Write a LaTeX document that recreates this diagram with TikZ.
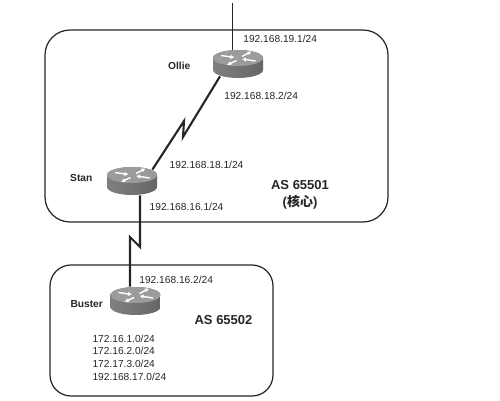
\documentclass[tikz,border=0pt]{standalone}
\usepackage{fontspec}
\setmainfont{Liberation Sans}
\newfontfamily\cjk{Noto Sans CJK SC}
\usepackage{xcolor}
\usetikzlibrary{arrows.meta,calc,positioning}
\definecolor{inkgray}{RGB}{38,38,38}
\definecolor{routertop}{RGB}{155,155,155}
\begin{document}
\begin{tikzpicture}[
  font=\fontsize{5.8}{7.2}\selectfont,
  text=inkgray,
  area/.style={draw=inkgray, line width=0.7pt},
  serial/.style={draw=inkgray, line width=1.2pt, line join=miter},
  uplink/.style={draw=inkgray, line width=0.5pt},
  addr/.style={inner sep=0pt},
  rname/.style={inner sep=0pt, font=\fontsize{5.8}{7}\selectfont\bfseries},
  asname/.style={inner sep=0pt, align=center, font=\fontsize{7.4}{9.6}\selectfont\bfseries},
  swoosh/.style={-{Latex[length=0.8mm,width=0.9mm]}, draw=white, line width=0.8pt},
  router/.style={minimum width=1cm, minimum height=0.56cm, inner sep=0pt, path picture={
    \begin{scope}[shift={(path picture bounding box.center)}]
      \shade[left color=black!50, middle color=black!8, right color=black!60]
        (-0.5,0.12) -- (-0.5,-0.12) arc[start angle=180, end angle=360, x radius=0.5, y radius=0.16]
        -- (0.5,0.12) arc[start angle=0, end angle=180, x radius=0.5, y radius=0.16] -- cycle;
      \fill[routertop] (0,0.12) ellipse[x radius=0.5, y radius=0.16];
      \draw[swoosh] (-0.34,0.17) -- (-0.07,0.13);
      \draw[swoosh] (0.08,0.15) -- (0.27,0.25);
      \draw[swoosh] (-0.03,0.07) -- (-0.22,-0.02);
      \draw[swoosh] (0.35,0.06) -- (0.08,0.1);
    \end{scope}}}
]
\useasboundingbox (0,0) rectangle (10,8);
\draw[area, rounded corners=0.5cm] (0.9,3.56) rectangle (7.76,7.4);
\draw[area, rounded corners=0.42cm] (1.0,0.08) rectangle (5.46,2.7);
\node[router] (ollie) at (4.76,6.72) {};
\node[router] (stan) at (2.64,4.38) {};
\node[router] (buster) at (2.71,1.98) {};
\coordinate (top) at (4.64,7.94);
\coordinate (zig1) at (3.68,5.58);
\coordinate (zig2) at (3.66,5.26);
\coordinate (zig3) at (2.8,3.06);
\coordinate (zig4) at (2.6,3.26);
\draw[uplink] (top) -- (top |- ollie.north);
\draw[serial] ($(ollie.south)+(-0.36,0.04)$) -- (zig2) -- (zig1) -- ($(stan.north east)+(-0.1,-0.06)$);
\draw[serial] (zig3 |- stan.south) -- (zig3) -- (zig4) -- (zig4 |- buster.north);
\node[rname, left=0.44cm of ollie, yshift=-0.04cm] (ollielabel) {Ollie};
\node[rname, left=0.28cm of stan, yshift=0.06cm] (stanlabel) {Stan};
\node[rname, left=0.14cm of buster, yshift=-0.06cm] (busterlabel) {Buster};
\node[addr, above right=0.14cm and 0.1cm of ollie.north] (ip191) {192.168.19.1/24};
\node[addr, below right=0.26cm and -0.28cm of ollie.south] (ip182) {192.168.18.2/24};
\node[addr, above right=-0.04cm and 0.24cm of stan.north east] (ip181) {192.168.18.1/24};
\node[addr, below right=0.14cm and -0.16cm of stan.south east] (ip161) {192.168.16.1/24};
\node[addr, above right=0.06cm and 0.07cm of buster.north] (ip162) {192.168.16.2/24};
\node[asname] (core) at (6.0,4.1) {AS 65501\\({\cjk 核心})};
\node[asname] (edge) at (4.47,1.6) {AS 65502};
\node[addr, align=left, below right=0.38cm and -0.36cm of buster.south west] (nets) {172.16.1.0/24\\172.16.2.0/24\\172.17.3.0/24\\192.168.17.0/24};
\end{tikzpicture}
\end{document}
